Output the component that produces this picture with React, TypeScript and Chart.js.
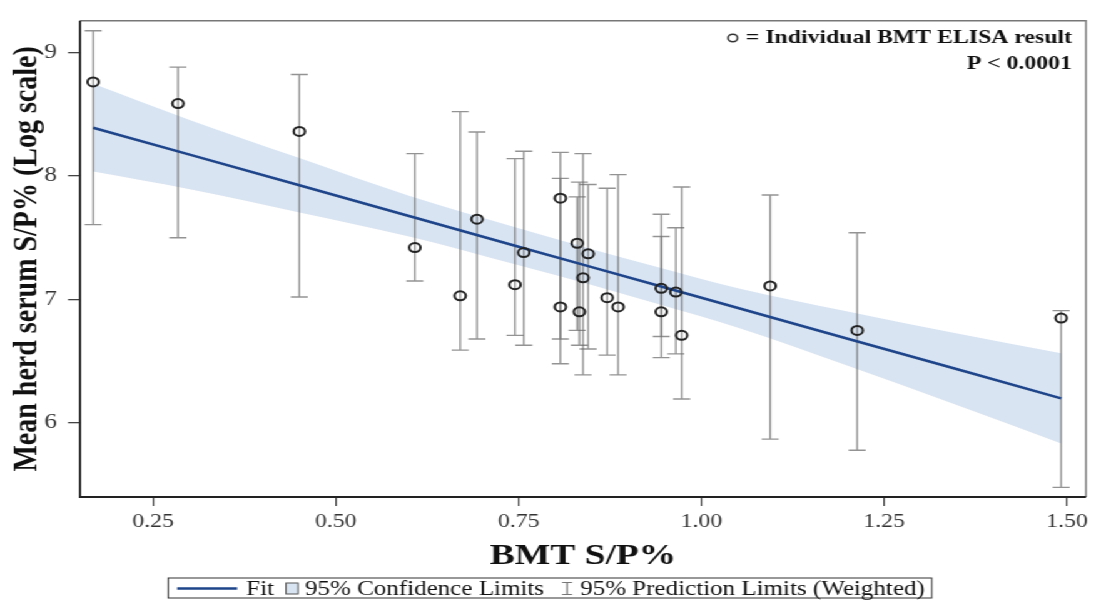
import React, { useEffect, useRef } from "react";
import { Chart, registerables } from "chart.js";

Chart.register(...registerables);

// ---------------- data ----------------
// Individual BMT ELISA results (x = BMT S/P%, y = mean herd serum S/P%, log scale)
const bmtSP = [0.168, 0.284, 0.45, 0.608, 0.67, 0.693, 0.745, 0.757, 0.807, 0.807, 0.83, 0.833, 0.838, 0.845, 0.871, 0.886, 0.945, 0.945, 0.965, 0.973, 1.094, 1.213, 1.492];
const herdSerum = [8.76, 8.585, 8.36, 7.42, 7.03, 7.65, 7.12, 7.38, 7.82, 6.94, 7.455, 6.9, 7.175, 7.37, 7.015, 6.94, 7.09, 6.9, 7.06, 6.71, 7.11, 6.75, 6.85];
// 95% prediction limits (weighted) at each point
const predUpper = [9.175, 8.88, 8.82, 8.18, 8.52, 8.355, 8.14, 8.2, 8.19, 7.98, 7.83, 7.95, 8.18, 7.93, 7.9, 8.01, 7.69, 7.51, 7.58, 7.91, 7.845, 7.54, 6.91];
const predLower = [7.606, 7.5, 7.02, 7.15, 6.59, 6.68, 6.71, 6.63, 6.48, 6.68, 6.75, 6.63, 6.39, 6.6, 6.55, 6.39, 6.53, 6.7, 6.56, 6.195, 5.87, 5.78, 5.48];
// Fit line and 95% confidence band
const bandX = [0.168, 0.3, 0.45, 0.6, 0.75, 0.85, 0.95, 1.05, 1.2, 1.35, 1.492];
const fitY = [8.39, 8.172, 7.924, 7.675, 7.427, 7.262, 7.097, 6.931, 6.683, 6.435, 6.2];
const clUpper = [8.745, 8.452, 8.144, 7.84, 7.577, 7.407, 7.247, 7.091, 6.903, 6.725, 6.565];
const clLower = [8.035, 7.892, 7.704, 7.51, 7.277, 7.117, 6.947, 6.771, 6.463, 6.145, 5.835];
// axes
const xTicks = [0.25, 0.5, 0.75, 1.0, 1.25, 1.5];
const yTicks = [6, 7, 8, 9];
const xTitle = "BMT S/P%";
const yTitle = "Mean herd serum S/P% (Log scale)";
const noteLines = ["= Individual BMT ELISA result", "P < 0.0001"];
const legendLabels = ["Fit", "95% Confidence Limits", "95% Prediction Limits (Weighted)"];

// ---------------- layout / style ----------------
const PAGE_W = 1101;
const PAGE_H = 604;
const W = 880;
const S = PAGE_W / W; // horizontal stretch of the figure
const SERIF = "'Liberation Serif', 'Times New Roman', serif";
const NAVY = "rgb(30,68,138)";
const BAND = "rgb(217,228,242)";
const X_MIN = 0.15;
const X_MAX = 1.526;
const Y_MIN = 5.402;
const Y_MAX = 9.255;

const h = (px: number) => px / S; // page-horizontal px -> canvas px

const predLimitsPlugin = {
  id: "predLimits",
  afterDatasetDraw(chart: any, args: any) {
    if (args.index !== 1) return;
    const { ctx } = chart;
    const x = chart.scales.x;
    const y = chart.scales.y;
    ctx.save();
    ctx.strokeStyle = "rgba(105,105,105,0.72)";
    ctx.lineWidth = 1.4;
    const cap = h(8.5);
    bmtSP.forEach((xv, i) => {
      const px = x.getPixelForValue(xv);
      const t = y.getPixelForValue(predUpper[i]);
      const b = y.getPixelForValue(predLower[i]);
      ctx.beginPath();
      ctx.moveTo(px, t);
      ctx.lineTo(px, b);
      ctx.moveTo(px - cap, t);
      ctx.lineTo(px + cap, t);
      ctx.moveTo(px - cap, b);
      ctx.lineTo(px + cap, b);
      ctx.stroke();
    });
    ctx.restore();
  },
};

const framePlugin = {
  id: "frame",
  afterDatasetsDraw(chart: any) {
    const { ctx, chartArea } = chart;
    const { left, right, top, bottom } = chartArea;
    ctx.save();
    ctx.strokeStyle = "#777";
    ctx.lineWidth = 1.4;
    ctx.beginPath();
    ctx.moveTo(left, top);
    ctx.lineTo(right, top);
    ctx.lineTo(right, bottom);
    ctx.stroke();
    ctx.strokeStyle = "#222";
    ctx.lineWidth = 1.8;
    ctx.beginPath();
    ctx.moveTo(left, top);
    ctx.lineTo(left, bottom);
    ctx.lineTo(right, bottom);
    ctx.stroke();
    ctx.restore();
  },
};

const textPlugin = {
  id: "notesAndLegend",
  afterDraw(chart: any) {
    const { ctx } = chart;
    ctx.save();
    // ---- note in the top-right corner ----
    ctx.font = `bold 19px ${SERIF}`;
    ctx.fillStyle = "#111";
    ctx.textAlign = "right";
    ctx.textBaseline = "middle";
    const nx = h(1072);
    ctx.fillText(noteLines[0], nx, 38);
    ctx.fillText(noteLines[1], nx, 64);
    const w0 = ctx.measureText(noteLines[0]).width;
    ctx.beginPath();
    ctx.strokeStyle = "#333";
    ctx.lineWidth = 1.5;
    ctx.arc(nx - w0 - h(13), 38, 3.8, 0, Math.PI * 2);
    ctx.stroke();

    // ---- legend ----
    ctx.font = `20px ${SERIF}`;
    ctx.textAlign = "left";
    const lineLen = h(60), g1 = h(9), g2 = h(12), box = h(12), g3 = h(7), g4 = h(18), iw = h(10), g5 = h(8);
    const padL = h(9), padR = h(7);
    const wFit = ctx.measureText(legendLabels[0]).width;
    const wConf = ctx.measureText(legendLabels[1]).width;
    const wPred = ctx.measureText(legendLabels[2]).width;
    const total = padL + lineLen + g1 + wFit + g2 + box + g3 + wConf + g4 + iw + g5 + wPred + padR;
    const x0 = h(550) - total / 2;
    const yTop = 578, yBot = 598, yc = 588.5;
    ctx.strokeStyle = "#333";
    ctx.lineWidth = 1;
    ctx.strokeRect(x0, yTop, total, yBot - yTop);
    let cx = x0 + padL;
    ctx.strokeStyle = NAVY;
    ctx.lineWidth = 2.5;
    ctx.beginPath();
    ctx.moveTo(cx, yc);
    ctx.lineTo(cx + lineLen, yc);
    ctx.stroke();
    cx += lineLen + g1;
    ctx.fillStyle = "#111";
    ctx.fillText(legendLabels[0], cx, yc + 1);
    cx += wFit + g2;
    ctx.fillStyle = BAND;
    ctx.fillRect(cx, yc - 5.5, box, 11);
    ctx.strokeStyle = "#555";
    ctx.lineWidth = 1;
    ctx.strokeRect(cx, yc - 5.5, box, 11);
    cx += box + g3;
    ctx.fillStyle = "#111";
    ctx.fillText(legendLabels[1], cx, yc + 1);
    cx += wConf + g4;
    ctx.strokeStyle = "#777";
    ctx.lineWidth = 1.2;
    ctx.beginPath();
    ctx.moveTo(cx + iw / 2, yc - 6);
    ctx.lineTo(cx + iw / 2, yc + 6);
    ctx.moveTo(cx, yc - 6);
    ctx.lineTo(cx + iw, yc - 6);
    ctx.moveTo(cx, yc + 6);
    ctx.lineTo(cx + iw, yc + 6);
    ctx.stroke();
    cx += iw + g5;
    ctx.fillStyle = "#111";
    ctx.fillText(legendLabels[2], cx, yc + 1);
    ctx.restore();
  },
};

export default function App() {
  const canvasRef = useRef<HTMLCanvasElement | null>(null);

  useEffect(() => {
    const canvas = canvasRef.current;
    if (!canvas) return;
    Chart.defaults.font.family = SERIF;
    const chart = new Chart(canvas, {
      type: "scatter",
      data: {
        datasets: [
          {
            type: "line",
            label: "CL upper",
            data: bandX.map((x, i) => ({ x, y: clUpper[i] })),
            borderWidth: 0,
            borderColor: "rgba(0,0,0,0)",
            pointRadius: 0,
            backgroundColor: BAND,
            fill: "+1",
            cubicInterpolationMode: "monotone",
            order: 4,
          } as any,
          {
            type: "line",
            label: "CL lower",
            data: bandX.map((x, i) => ({ x, y: clLower[i] })),
            borderWidth: 0,
            borderColor: "rgba(0,0,0,0)",
            pointRadius: 0,
            fill: false,
            cubicInterpolationMode: "monotone",
            order: 3,
          } as any,
          {
            type: "line",
            label: "Fit",
            data: bandX.map((x, i) => ({ x, y: fitY[i] })),
            borderColor: NAVY,
            borderWidth: 2.6,
            pointRadius: 0,
            fill: false,
            order: 1,
          } as any,
          {
            type: "scatter",
            label: "Individual BMT ELISA result",
            data: bmtSP.map((x, i) => ({ x, y: herdSerum[i] })),
            pointRadius: 4.5,
            pointBorderWidth: 2,
            borderColor: "#222",
            backgroundColor: "rgba(0,0,0,0)",
            order: 0,
          } as any,
        ],
      },
      options: {
        animation: false,
        responsive: false,
        devicePixelRatio: 1,
        layout: { padding: { left: 0, top: 13, right: W - h(1086), bottom: PAGE_H - 575 } },
        plugins: { legend: { display: false }, tooltip: { enabled: false } },
        scales: {
          x: {
            type: "linear",
            min: X_MIN,
            max: X_MAX,
            afterBuildTicks: (s: any) => {
              s.ticks = xTicks.map((v) => ({ value: v }));
            },
            afterFit: (s: any) => {
              s.height = 78;
            },
            grid: { drawOnChartArea: false, drawTicks: true, tickLength: 9, color: "#444", lineWidth: 1.2 },
            border: { display: false },
            ticks: {
              autoSkip: false,
              maxRotation: 0,
              padding: 5,
              color: "#333",
              font: { family: SERIF, size: 19 },
              callback: (v: any) => Number(v).toFixed(2),
            },
            title: {
              display: true,
              text: xTitle,
              color: "#111",
              font: { family: SERIF, size: 30, weight: "bold" },
              padding: { top: 0, bottom: 1 },
            },
          },
          y: {
            type: "linear",
            min: Y_MIN,
            max: Y_MAX,
            afterBuildTicks: (s: any) => {
              s.ticks = yTicks.map((v) => ({ value: v }));
            },
            afterFit: (s: any) => {
              s.width = h(80);
            },
            grid: { drawOnChartArea: false, drawTicks: true, tickLength: h(12), color: "#444", lineWidth: 1.3 },
            border: { display: false },
            ticks: {
              padding: h(11),
              color: "#333",
              font: { family: SERIF, size: 20 },
              callback: (v: any) => String(v),
            },
            title: {
              display: true,
              text: yTitle,
              color: "#111",
              font: { family: SERIF, size: 28, weight: "bold" },
              padding: { top: Math.max(0, h(27) - 16.8), bottom: 0 },
            },
          },
        },
      } as any,
      plugins: [predLimitsPlugin, framePlugin, textPlugin],
    });
    return () => chart.destroy();
  }, []);

  return (
    <div
      style={{
        position: "fixed",
        left: 0,
        top: 0,
        width: W,
        height: PAGE_H,
        background: "#fff",
        transform: `scaleX(${S})`,
        transformOrigin: "0 0",
      }}
    >
      <canvas ref={canvasRef} width={W} height={PAGE_H} style={{ display: "block", width: W, height: PAGE_H }} />
    </div>
  );
}
